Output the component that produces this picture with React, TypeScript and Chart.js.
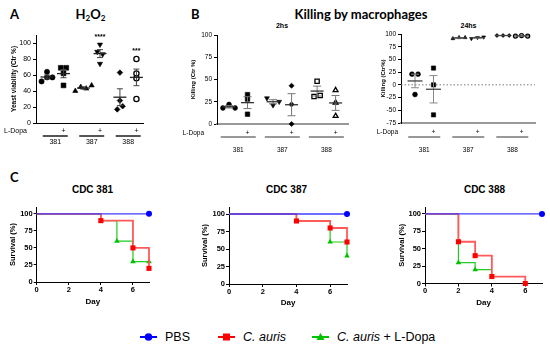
import React, { useEffect, useRef } from 'react';
import { Chart, registerables } from 'chart.js';

Chart.register(...registerables);

const SANS = '"Liberation Sans", Arial, Helvetica, sans-serif';
const HEAD = 'Lato, "Open Sans", sans-serif';

// ---------------- data ----------------
const strainLabels = ['381', '387', '388'];
const lDopaLabel = 'L-Dopa';
const lDopaSign = '+';

// Panel A - H2O2, yeast viability (Ctr %)
const viab381 = [52, 64, 57, 57];
const viab381LDopa = [69, 69, 62, 47];
const viab387 = [40, 45, 43, 47];
const viab387LDopa = [98, 89, 86, 74];
const viab388 = [63, 28, 17, 21];
const viab388LDopa = [80, 62, 56, 30];
const viabStars = ['', '', '', '****', '', '***'];

// Panel B - killing by macrophages, 2 h
const kill2h381 = [18, 22, 18];
const kill2h381LDopa = [33, 28, 11];
const kill2h387 = [29, 21, 25];
const kill2h387LDopa = [43, 22, 0];
const kill2h388 = [31, 48, 32];
const kill2h388LDopa = [38, 24, 9];

// Panel B - killing by macrophages, 24 h
const kill24h381 = [21, 21, -19];
const kill24h381LDopa = [33, 0, -59];
const kill24h387 = [91, 93, 93];
const kill24h387LDopa = [91, 93, 94];
const kill24h388 = [97, 97, 97];
const kill24h388LDopa = [96, 97, 96];

// Panel C - survival (%), by day
const seriesNames = ['PBS', 'C. auris', 'C. auris + L-Dopa'];
const studyEndDay = 7;
const cdc381PbsDays = [0, 7];
const cdc381PbsSurv = [100, 100];
const cdc381AurisDays = [0, 4, 6, 7];
const cdc381AurisSurv = [100, 90, 50, 20];
const cdc381LDopaDays = [0, 4, 5, 6, 7];
const cdc381LDopaSurv = [100, 90, 60, 30, 30];
const cdc387PbsDays = [0, 7];
const cdc387PbsSurv = [100, 100];
const cdc387AurisDays = [0, 4, 6, 7];
const cdc387AurisSurv = [100, 90, 80, 60];
const cdc387LDopaDays = [0, 4, 6, 7];
const cdc387LDopaSurv = [100, 90, 60, 40];
const cdc388PbsDays = [0, 7];
const cdc388PbsSurv = [100, 100];
const cdc388AurisDays = [0, 2, 3, 4, 6];
const cdc388AurisSurv = [100, 60, 40, 10, 0];
const cdc388LDopaDays = [0, 2, 3, 4];
const cdc388LDopaSurv = [100, 30, 20, 20];

// ---------------- helpers ----------------
const mean = (a: number[]) => a.reduce((s, v) => s + v, 0) / a.length;
const sem = (a: number[]) => {
  const m = mean(a);
  const v = a.reduce((s, x) => s + (x - m) * (x - m), 0) / (a.length - 1);
  return Math.sqrt(v / a.length);
};
const groupPos = (i: number, gap: number) => Math.floor(i / 2) * gap + (i % 2);

function swarmOffsets(values: number[], thr: number, step: number) {
  const order = values.map((_, i) => i).sort((a, b) => values[a] - values[b]);
  const offs = values.map(() => 0);
  let cluster: number[] = [];
  const flush = () => {
    const members = [...cluster].sort((a, b) => a - b);
    members.forEach((id, j) => {
      offs[id] = (j - (members.length - 1) / 2) * step;
    });
    cluster = [];
  };
  order.forEach((id) => {
    if (cluster.length && values[id] - values[cluster[cluster.length - 1]] > thr) flush();
    cluster.push(id);
  });
  flush();
  return offs;
}

type Marker = { style: string; rot: number; open: boolean; r: number };

function dotConfig(o: any) {
  const datasets = o.groups.map((vals: number[], i: number) => {
    const offs = swarmOffsets(vals, o.thr, o.step);
    const m: Marker = o.markers[i];
    return {
      type: 'scatter',
      data: vals.map((v, j) => ({ x: groupPos(i, o.gap) + offs[j], y: v })),
      pointStyle: m.style,
      pointRotation: m.rot,
      pointRadius: m.r,
      pointHoverRadius: m.r,
      pointBackgroundColor: m.open ? '#ffffff' : '#000000',
      pointBorderColor: '#000000',
      pointBorderWidth: m.open ? 1.3 : 0.6,
      showLine: false,
      clip: false,
    };
  });
  const plugin = {
    id: 'dotExtras',
    beforeDatasetsDraw(chart: any) {
      if (!o.zeroLine) return;
      const { ctx, chartArea } = chart;
      const y = chart.scales.y.getPixelForValue(0);
      ctx.save();
      ctx.strokeStyle = '#777';
      ctx.lineWidth = 1;
      ctx.setLineDash([1.5, 2]);
      ctx.beginPath();
      ctx.moveTo(chartArea.left, y);
      ctx.lineTo(chartArea.right, y);
      ctx.stroke();
      ctx.restore();
    },
    afterDatasetsDraw(chart: any) {
      const { ctx } = chart;
      const xs = chart.scales.x;
      const ys = chart.scales.y;
      ctx.save();
      o.groups.forEach((vals: number[], i: number) => {
        const m = mean(vals);
        const e = sem(vals);
        const x = xs.getPixelForValue(groupPos(i, o.gap));
        const ym = ys.getPixelForValue(m);
        const yt = ys.getPixelForValue(m + e);
        const yb = ys.getPixelForValue(m - e);
        ctx.strokeStyle = o.errColor;
        ctx.lineWidth = 1;
        ctx.beginPath();
        ctx.moveTo(x, yt);
        ctx.lineTo(x, yb);
        ctx.moveTo(x - o.capHalf, yt);
        ctx.lineTo(x + o.capHalf, yt);
        ctx.moveTo(x - o.capHalf, yb);
        ctx.lineTo(x + o.capHalf, yb);
        ctx.stroke();
        ctx.strokeStyle = o.meanColor;
        ctx.lineWidth = 1.3;
        ctx.beginPath();
        ctx.moveTo(x - o.meanHalf, ym);
        ctx.lineTo(x + o.meanHalf, ym);
        ctx.stroke();
      });
      ctx.restore();
    },
    afterDraw(chart: any) {
      const { ctx, chartArea } = chart;
      const xs = chart.scales.x;
      const ys = chart.scales.y;
      ctx.save();
      ctx.fillStyle = '#000';
      ctx.textBaseline = 'middle';
      ctx.font = `${o.labelSize}px ${SANS}`;
      ctx.textAlign = 'right';
      ctx.fillText(lDopaLabel, chartArea.left + o.lDopaDx, chartArea.bottom + o.rowDy);
      ctx.textAlign = 'center';
      strainLabels.forEach((lab, g) => {
        const xMinus = xs.getPixelForValue(groupPos(2 * g, o.gap));
        const xPlus = xs.getPixelForValue(groupPos(2 * g + 1, o.gap));
        const c = (xMinus + xPlus) / 2;
        ctx.fillText(lDopaSign, xPlus, chartArea.bottom + o.rowDy);
        ctx.strokeStyle = o.groupLineColor;
        ctx.lineWidth = o.groupLineWidth;
        ctx.beginPath();
        ctx.moveTo(c - o.lineHalf, chartArea.bottom + o.lineDy);
        ctx.lineTo(c + o.lineHalf, chartArea.bottom + o.lineDy);
        ctx.stroke();
        ctx.fillText(lab, c, chartArea.bottom + o.labelDy);
      });
      if (o.stars) {
        ctx.font = `bold ${o.labelSize}px ${SANS}`;
        o.stars.forEach((s: string, i: number) => {
          if (!s) return;
          const top = Math.max(...o.groups[i]);
          ctx.fillText(s, xs.getPixelForValue(groupPos(i, o.gap)), ys.getPixelForValue(top + o.starGap));
        });
      }
      ctx.restore();
    },
  };
  return {
    type: 'scatter',
    data: { datasets },
    plugins: [plugin],
    options: {
      animation: false,
      responsive: false,
      maintainAspectRatio: false,
      devicePixelRatio: 1,
      events: [],
      layout: { padding: { top: o.padTop, right: o.padRight, left: 0, bottom: 0 } },
      plugins: { legend: { display: false }, tooltip: { enabled: false } },
      scales: {
        x: {
          type: 'linear',
          min: o.xMin,
          max: o.xMax,
          ticks: { display: false },
          grid: { display: false },
          border: { display: true, color: o.xBorderColor, width: o.xBorderWidth },
          afterFit: (s: any) => {
            s.height = o.xHeight;
            s.paddingLeft = 0;
            s.paddingRight = 0;
          },
        },
        y: {
          min: o.yMin,
          max: o.yMax,
          ticks: {
            stepSize: o.yStep,
            includeBounds: false,
            font: { family: SANS, size: o.tickSize },
            color: '#000',
            padding: 2,
          },
          grid: { display: true, drawOnChartArea: false, drawTicks: true, tickLength: 3, color: '#000', lineWidth: 1 },
          border: { display: true, color: '#000', width: 1 },
          title: {
            display: true,
            text: o.yTitle,
            color: '#000',
            font: { family: SANS, size: o.yTitleSize, weight: 'bold' },
            padding: { top: o.yTitlePad, bottom: 0 },
          },
          afterFit: (s: any) => {
            s.width = o.yWidth;
            s.paddingTop = 0;
            s.paddingBottom = 0;
          },
        },
      },
    },
  };
}

const markersA: Marker[] = [
  { style: 'circle', rot: 0, open: false, r: 2.6 },
  { style: 'rect', rot: 0, open: false, r: 3.4 },
  { style: 'triangle', rot: 0, open: false, r: 3 },
  { style: 'triangle', rot: 180, open: false, r: 3 },
  { style: 'rectRot', rot: 0, open: false, r: 2.8 },
  { style: 'circle', rot: 0, open: true, r: 2.6 },
];
const markers2h: Marker[] = [
  { style: 'circle', rot: 0, open: false, r: 2.4 },
  { style: 'rect', rot: 0, open: false, r: 3.2 },
  { style: 'triangle', rot: 180, open: false, r: 2.8 },
  { style: 'rectRot', rot: 0, open: false, r: 2.6 },
  { style: 'rect', rot: 0, open: true, r: 3 },
  { style: 'triangle', rot: 0, open: true, r: 2.8 },
];
const markers24h: Marker[] = [
  { style: 'circle', rot: 0, open: false, r: 2.4 },
  { style: 'rect', rot: 0, open: false, r: 3 },
  { style: 'triangle', rot: 0, open: false, r: 2.2 },
  { style: 'triangle', rot: 180, open: false, r: 2.2 },
  { style: 'rectRot', rot: 0, open: false, r: 2 },
  { style: 'circle', rot: 0, open: true, r: 2 },
];

const configA = () =>
  dotConfig({
    groups: [viab381, viab381LDopa, viab387, viab387LDopa, viab388, viab388LDopa],
    markers: markersA,
    gap: 2.21, xMin: -0.667, xMax: 5.818,
    yMin: 0, yMax: 110, yStep: 20,
    yTitle: 'Yeast viability (Ctr %)', yTitleSize: 6.5, yTitlePad: 10,
    yWidth: 36, xHeight: 30, padTop: 7, padRight: 7,
    tickSize: 7, thr: 5.5, step: 0.33,
    meanHalf: 6.5, capHalf: 3, meanColor: '#222', errColor: '#444',
    lDopaDx: -9, rowDy: 8, lineDy: 13, labelDy: 19, lineHalf: 12.5,
    groupLineWidth: 2, groupLineColor: '#555',
    xBorderColor: '#000', xBorderWidth: 1,
    labelSize: 7, stars: viabStars, starGap: 10,
  });

const config2h = () =>
  dotConfig({
    groups: [kill2h381, kill2h381LDopa, kill2h387, kill2h387LDopa, kill2h388, kill2h388LDopa],
    markers: markers2h,
    gap: 2.38, xMin: -0.649, xMax: 6.43,
    yMin: 0, yMax: 100, yStep: 25,
    yTitle: 'Killing (Ctr %)', yTitleSize: 6, yTitlePad: 17.4,
    yWidth: 45, xHeight: 36, padTop: 7, padRight: 7,
    tickSize: 6.5, thr: 4, step: 0.33,
    meanHalf: 6.5, capHalf: 4, meanColor: '#333', errColor: '#777',
    lDopaDx: -13, rowDy: 9, lineDy: 13, labelDy: 26, lineHalf: 17.5,
    groupLineWidth: 1, groupLineColor: '#333',
    xBorderColor: '#999', xBorderWidth: 2,
    labelSize: 6.5,
  });

const config24h = () =>
  dotConfig({
    groups: [kill24h381, kill24h381LDopa, kill24h387, kill24h387LDopa, kill24h388, kill24h388LDopa],
    markers: markers24h,
    gap: 2.38, xMin: -0.757, xMax: 6.486,
    yMin: -75, yMax: 100, yStep: 25,
    yTitle: 'Killing (Ctr%)', yTitleSize: 6, yTitlePad: 17.4,
    yWidth: 39, xHeight: 37, padTop: 6, padRight: 7,
    tickSize: 6.5, thr: 10, step: 0.33,
    meanHalf: 7.5, capHalf: 4, meanColor: '#444', errColor: '#888',
    lDopaDx: -3, rowDy: 9, lineDy: 14, labelDy: 27, lineHalf: 16,
    groupLineWidth: 1, groupLineColor: '#333',
    xBorderColor: '#999', xBorderWidth: 2,
    labelSize: 6.5, zeroLine: true,
  });

const seriesStyle = [
  { line: '#3c3cff', marker: '#0000ff', style: 'circle', r: 3, w: 1.3 },
  { line: '#ff5a5a', marker: '#ff0000', style: 'rect', r: 3.6, w: 1.8 },
  { line: '#22cc22', marker: '#00c000', style: 'triangle', r: 3.2, w: 1.2 },
];

function survConfig(days: number[][], surv: number[][], o: any) {
  const datasets = days.map((d, k) => ({
    type: 'line',
    label: seriesNames[k],
    data: d.map((x, i) => ({ x, y: surv[k][i] })),
    stepped: 'before',
    borderColor: seriesStyle[k].line,
    borderWidth: seriesStyle[k].w,
    fill: false,
    pointStyle: seriesStyle[k].style,
    pointRadius: d.map((x, i) => (i > 0 && (surv[k][i] < surv[k][i - 1] || x === studyEndDay) ? seriesStyle[k].r : 0)),
    pointHoverRadius: 0,
    pointBackgroundColor: seriesStyle[k].marker,
    pointBorderColor: seriesStyle[k].marker,
    pointBorderWidth: 0,
    clip: false,
  }));
  const bold = { family: SANS, size: 7.5, weight: 'bold' };
  return {
    type: 'line',
    data: { datasets },
    options: {
      animation: false,
      responsive: false,
      maintainAspectRatio: false,
      devicePixelRatio: 1,
      events: [],
      layout: { padding: { top: o.padTop, right: o.padRight, left: 0, bottom: 0 } },
      plugins: { legend: { display: false }, tooltip: { enabled: false } },
      scales: {
        x: {
          type: 'linear',
          min: 0,
          max: studyEndDay,
          ticks: { stepSize: 2, includeBounds: false, font: bold, color: '#000', padding: 0, maxRotation: 0 },
          grid: { display: true, drawOnChartArea: false, drawTicks: true, tickLength: 3, color: '#000' },
          border: { display: true, color: '#000', width: 1 },
          title: { display: true, text: 'Day', color: '#000', font: { family: SANS, size: 8, weight: 'bold' }, padding: { top: 0, bottom: o.dayPad } },
          afterFit: (s: any) => {
            s.height = o.xHeight;
            s.paddingLeft = 0;
            s.paddingRight = 0;
          },
        },
        y: {
          min: 0,
          max: 110,
          ticks: { stepSize: 25, includeBounds: false, font: bold, color: '#000', padding: 1 },
          grid: { display: true, drawOnChartArea: false, drawTicks: true, tickLength: 3, color: '#000' },
          border: { display: true, color: '#000', width: 1 },
          title: { display: true, text: 'Survival (%)', color: '#000', font: { family: SANS, size: 7.5, weight: 'bold' }, padding: { top: o.titlePad, bottom: 0 } },
          afterFit: (s: any) => {
            s.width = o.yWidth;
            s.paddingTop = 0;
            s.paddingBottom = 0;
          },
        },
      },
    },
  };
}

const config381 = () =>
  survConfig([cdc381PbsDays, cdc381AurisDays, cdc381LDopaDays], [cdc381PbsSurv, cdc381AurisSurv, cdc381LDopaSurv], {
    padTop: 7, padRight: 11, yWidth: 36.7, xHeight: 28, dayPad: 3, titlePad: 8.5,
  });
const config387 = () =>
  survConfig([cdc387PbsDays, cdc387AurisDays, cdc387LDopaDays], [cdc387PbsSurv, cdc387AurisSurv, cdc387LDopaSurv], {
    padTop: 7, padRight: 8, yWidth: 39, xHeight: 26, dayPad: 2, titlePad: 10.5,
  });
const config388 = () =>
  survConfig([cdc388PbsDays, cdc388AurisDays, cdc388LDopaDays], [cdc388PbsSurv, cdc388AurisSurv, cdc388LDopaSurv], {
    padTop: 7, padRight: 5, yWidth: 40, xHeight: 26.5, dayPad: 2, titlePad: 12.5,
  });

// ---------------- components ----------------
function ChartBox({ left, top, width, height, make }: { left: number; top: number; width: number; height: number; make: () => any }) {
  const ref = useRef<HTMLCanvasElement>(null);
  useEffect(() => {
    const chart = new Chart(ref.current as HTMLCanvasElement, make());
    return () => chart.destroy();
  }, []);
  return <canvas ref={ref} width={width} height={height} style={{ position: 'absolute', left, top, width, height }} />;
}

function Txt({ x, y, size, children, family = HEAD, weight = 'bold', align = 'center' }: any) {
  const tx = align === 'center' ? '-50%' : align === 'right' ? '-100%' : '0';
  return (
    <div
      style={{
        position: 'absolute', left: x, top: y, transform: `translate(${tx},-50%)`,
        fontSize: size, fontWeight: weight, fontFamily: family, lineHeight: 1, whiteSpace: 'nowrap', color: '#000',
      }}
    >
      {children}
    </div>
  );
}

function LegendMark({ k }: { k: number }) {
  const s = seriesStyle[k];
  return (
    <svg width={17} height={10} style={{ display: 'block' }}>
      <line x1={0} y1={5} x2={17} y2={5} stroke={s.marker} strokeWidth={2} />
      {s.style === 'circle' && <circle cx={8.5} cy={5} r={3.8} fill={s.marker} />}
      {s.style === 'rect' && <rect x={5} y={1.5} width={7} height={7} fill={s.marker} />}
      {s.style === 'triangle' && <polygon points="8.5,1 12.5,8 4.5,8" fill={s.marker} />}
    </svg>
  );
}

function LegendItem({ k, x, children }: any) {
  return (
    <div style={{ position: 'absolute', left: x, top: 337, transform: 'translateY(-50%)', display: 'flex', alignItems: 'center', fontFamily: SANS, fontSize: 12.5, whiteSpace: 'nowrap' }}>
      <LegendMark k={k} />
      <span style={{ marginLeft: 8 }}>{children}</span>
    </div>
  );
}

const subStyle: React.CSSProperties = { fontSize: '0.62em', verticalAlign: '-0.3em', lineHeight: 0 };

export default function App() {
  return (
    <div style={{ position: 'absolute', left: 0, top: 0, width: 550, height: 350, background: '#fff', overflow: 'hidden' }}>
      <Txt x={10} y={14} size={13} align="left">A</Txt>
      <Txt x={90.5} y={14} size={13}>
        H<sub style={subStyle}>2</sub>O<sub style={subStyle}>2</sub>
      </Txt>
      <Txt x={191} y={14} size={13} align="left">B</Txt>
      <Txt x={361} y={14} size={13}>Killing by macrophages</Txt>
      <Txt x={282} y={25} size={7} family={SANS}>2hs</Txt>
      <Txt x={468.5} y={25} size={7} family={SANS}>24hs</Txt>
      <Txt x={10} y={177} size={13} align="left">C</Txt>
      <Txt x={92.5} y={190} size={10} family={SANS}>CDC 381</Txt>
      <Txt x={286.5} y={190} size={10} family={SANS}>CDC 387</Txt>
      <Txt x={484.5} y={190} size={10} family={SANS}>CDC 388</Txt>

      <ChartBox left={0} top={28} width={150} height={125} make={configA} />
      <ChartBox left={172} top={28} width={183} height={132} make={config2h} />
      <ChartBox left={362} top={28} width={180} height={132} make={config24h} />

      <ChartBox left={0} top={200} width={160} height={110} make={config381} />
      <ChartBox left={190} top={200} width={165} height={110} make={config387} />
      <ChartBox left={385} top={200} width={162} height={110} make={config388} />

      <LegendItem k={0} x={140}>{seriesNames[0]}</LegendItem>
      <LegendItem k={1} x={218}><i>C. auris</i></LegendItem>
      <LegendItem k={2} x={312}><i>C. auris</i> + L-Dopa</LegendItem>
    </div>
  );
}
